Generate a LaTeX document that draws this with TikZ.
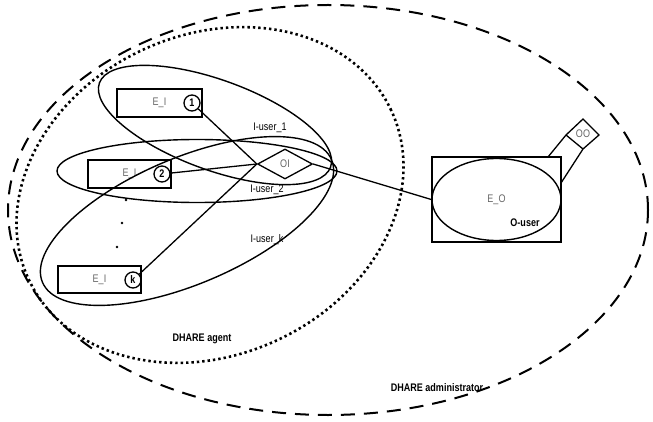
\documentclass[tikz,border=0pt]{standalone}
\usepackage{fontspec}
\setmainfont{Liberation Sans}
\newfontfamily\nfont[FakeStretch=0.82]{Liberation Sans}
\usetikzlibrary{shapes.geometric}
\begin{document}
\begin{tikzpicture}[x=1pt,y=-1pt,
  lbl/.style={font=\nfont\fontsize{11}{12}\selectfont, inner sep=0},
  blbl/.style={font=\nfont\bfseries\fontsize{11}{12}\selectfont, inner sep=0},
  soft/.style={lbl, text=black!60},
  ebox/.style={draw, line width=1.3pt, minimum width=84pt, minimum height=28pt, inner sep=0, soft},
  num/.style={draw, circle, line width=1.3pt, minimum size=16pt, inner sep=0, font=\nfont\bfseries\fontsize{11}{11}\selectfont},
  grp/.style={line width=1.4pt},
  conn/.style={line width=1.3pt},
  admin/.style={line width=2pt, dash pattern=on 14pt off 9pt},
  agent/.style={line width=2.6pt, dash pattern=on 2.4pt off 3pt},
]
\useasboundingbox (0,0) rectangle (653,422);

% outer administrator and agent regions
\draw[admin] (328,210) ellipse [x radius=320pt, y radius=205pt];
\draw[agent, rotate around={25:(210,195)}] (210,195) ellipse [x radius=200pt, y radius=160pt];

% E_I boxes
\node[ebox, minimum width=85pt] (b1) at (159.5,103) {E\_I};
\node[ebox, minimum width=83pt] (b2) at (129.5,174) {E\_I};
\node[ebox, minimum width=83pt, minimum height=27pt] (bk) at (99.5,279.5) {E\_I};
\node[num] (c1) at (192,103) {1};
\node[num] (c2) at (162,174) {2};
\node[num] (ck) at (133,280) {k};

% dots
\fill (126,200) circle (1.3pt);
\fill (122,223) circle (1.3pt);
\fill (117,247) circle (1.3pt);

% OI diamond
\node[draw, diamond, aspect=1.85, minimum width=55pt, minimum height=30pt, inner sep=0, line width=1.3pt, soft] (oi) at (285,164) {OI};

% user groups
\draw[grp, rotate around={-20:(215,125)}] (215,125) ellipse [x radius=123pt, y radius=45pt];
\draw[grp] (197,171) ellipse [x radius=140pt, y radius=31.5pt];
\draw[grp, rotate around={23:(187,221)}] (187,221) ellipse [x radius=157pt, y radius=63pt];

% E_O
\node[draw, line width=1.3pt, minimum width=129pt, minimum height=85pt, inner sep=0] (eobox) at (496.5,199.5) {};
\node[draw, ellipse, line width=1.4pt, minimum width=129pt, minimum height=82pt, inner sep=0, soft] (eo) at (496.5,199.5) {E\_O};

% OO
\coordinate (ool) at (566,135);
\coordinate (oot) at (583,119);
\coordinate (oor) at (599,135);
\coordinate (oob) at (583,149);
\coordinate (s1) at (548,157);
\coordinate (s2) at (561,183);
\draw[conn, line join=miter] (s1) -- (ool) -- (oot) -- (oor) -- (oob) -- (s2);
\draw[conn] (ool) -- (oob);
\node[soft] (oo) at (583,134) {OO};

% connectors
\draw[conn] (c1) -- (oi.west);
\draw[conn] (c2) -- (oi.west);
\draw[conn] (ck) -- (oi.west);
\draw[conn] (oi.east) -- (eo.west);

% labels
\node[lbl] (l1) at (270,128) {I-user\_1};
\node[lbl] (l2) at (267,190) {I-user\_2};
\node[lbl] (lk) at (267,240) {I-user\_k};
\node[blbl] (ag) at (202,339) {DHARE agent};
\node[blbl] (ad) at (437,388) {DHARE administrator};
\node[blbl] (ou) at (525,223) {O-user};
\end{tikzpicture}
\end{document}
